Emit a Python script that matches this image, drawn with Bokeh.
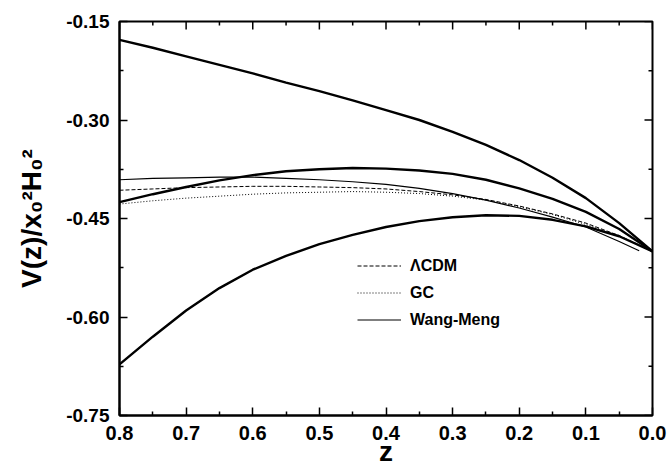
import math
from bokeh.plotting import figure
from bokeh.models import (Range1d, FixedTicker, PrintfTickFormatter,
                          Legend, LegendItem)
from bokeh.embed import file_html
from bokeh.resources import INLINE

# ---------------- data ----------------
z = [0.80, 0.75, 0.70, 0.65, 0.60, 0.55, 0.50, 0.45, 0.40,
     0.35, 0.30, 0.25, 0.20, 0.15, 0.10, 0.05, 0.00]

upper_thick = [-0.178, -0.190, -0.203, -0.216, -0.229, -0.243, -0.256, -0.270, -0.285,
               -0.300, -0.318, -0.338, -0.361, -0.388, -0.419, -0.457, -0.500]
middle_thick = [-0.425, -0.413, -0.402, -0.392, -0.384, -0.378, -0.375, -0.373, -0.374,
                -0.377, -0.382, -0.391, -0.404, -0.420, -0.440, -0.466, -0.500]
lower_thick = [-0.672, -0.630, -0.590, -0.556, -0.528, -0.507, -0.489, -0.475, -0.463,
               -0.454, -0.448, -0.445, -0.446, -0.452, -0.462, -0.477, -0.500]

lcdm = [-0.407, -0.405, -0.403, -0.402, -0.401, -0.401, -0.402, -0.403, -0.405,
        -0.409, -0.414, -0.421, -0.431, -0.443, -0.457, -0.476, -0.500]
gc = [-0.428, -0.423, -0.419, -0.416, -0.413, -0.411, -0.410, -0.409, -0.410,
      -0.412, -0.416, -0.422, -0.432, -0.444, -0.459, -0.477, -0.500]

z_wm = [0.80, 0.75, 0.70, 0.65, 0.60, 0.55, 0.50, 0.45, 0.40,
        0.35, 0.30, 0.25, 0.20, 0.15, 0.10, 0.05, 0.02]
wang_meng = [-0.391, -0.389, -0.388, -0.387, -0.387, -0.389, -0.391, -0.394, -0.398,
             -0.404, -0.412, -0.422, -0.434, -0.448, -0.463, -0.485, -0.499]

x_ticks = [0.8, 0.7, 0.6, 0.5, 0.4, 0.3, 0.2, 0.1, 0.0]
x_minor = [0.75, 0.65, 0.55, 0.45, 0.35, 0.25, 0.15, 0.05]
y_ticks = [-0.75, -0.60, -0.45, -0.30, -0.15]
y_minor = [-0.675, -0.525, -0.375, -0.225]

X_MIN, X_MAX = 0.8, 0.0
Y_MIN, Y_MAX = -0.75, -0.15

FONT = "Liberation Sans"

p = figure(width=668, height=472, output_backend="svg", toolbar_location=None,
           x_range=Range1d(X_MIN, X_MAX), y_range=Range1d(Y_MIN, Y_MAX),
           min_border_left=119, min_border_right=16, min_border_top=21,
           min_border_bottom=57)
p.xgrid.grid_line_color = None
p.ygrid.grid_line_color = None
p.outline_line_color = "black"
p.outline_line_width = 2
p.outline_line_alpha = 1
p.background_fill_color = "white"
p.border_fill_color = "white"


def style_axis(ax, size, standoff):
    ax.axis_line_width = 2
    ax.axis_line_color = "black"
    ax.major_tick_in = 8
    ax.major_tick_out = 0
    ax.minor_tick_in = 4
    ax.minor_tick_out = 0
    ax.major_tick_line_width = 1.5
    ax.minor_tick_line_width = 1.5
    ax.major_tick_line_color = "black"
    ax.minor_tick_line_color = "black"
    ax.major_label_text_font = FONT
    ax.major_label_text_font_style = "bold"
    ax.major_label_text_font_size = size
    ax.major_label_text_color = "black"
    ax.major_label_standoff = standoff
    ax.axis_label_text_font = FONT
    ax.axis_label_text_font_style = "bold"
    ax.axis_label_text_color = "black"


p.xaxis.ticker = FixedTicker(ticks=x_ticks, minor_ticks=x_minor)
p.xaxis.formatter = PrintfTickFormatter(format="%.1f")
style_axis(p.xaxis[0], "20px", 10)
p.xaxis.axis_label = "z"
p.xaxis.axis_label_text_font_size = "28px"
p.xaxis.axis_label_standoff = -7

p.yaxis.ticker = FixedTicker(ticks=y_ticks, minor_ticks=y_minor)
p.yaxis.formatter = PrintfTickFormatter(format="%.2f")
style_axis(p.yaxis[0], "19px", 10)
p.yaxis.axis_label = "V(z)/x\u2080\u00b2H\u2080\u00b2"
p.yaxis.axis_label_text_font_size = "28px"
p.yaxis.axis_label_standoff = 16

# inward ticks on the top and right edges of the frame box
p.ray(x=x_ticks, y=Y_MAX, length=8, length_units="screen", angle=-math.pi / 2,
      line_color="black", line_width=1.5)
p.ray(x=x_minor, y=Y_MAX, length=4, length_units="screen", angle=-math.pi / 2,
      line_color="black", line_width=1.5)
p.ray(x=X_MAX, y=y_ticks, length=8, length_units="screen", angle=math.pi,
      line_color="black", line_width=1.5)
p.ray(x=X_MAX, y=y_minor, length=4, length_units="screen", angle=math.pi,
      line_color="black", line_width=1.5)

# curves
p.line(z, upper_thick, line_color="black", line_width=2.4)
p.line(z, middle_thick, line_color="black", line_width=2.4)
p.line(z, lower_thick, line_color="black", line_width=2.4)
r_l = p.line(z, lcdm, line_color="black", line_width=1, line_dash="4 2")
r_g = p.line(z, gc, line_color="black", line_width=1, line_dash="1 2")
r_w = p.line(z_wm, wang_meng, line_color="black", line_width=1.2)

legend = Legend(items=[LegendItem(label="ΛCDM", renderers=[r_l]),
                       LegendItem(label="GC", renderers=[r_g]),
                       LegendItem(label="Wang-Meng", renderers=[r_w])],
                location=(238, 82), glyph_width=44, glyph_height=27,
                label_height=27, label_standoff=9, spacing=0, padding=0,
                margin=0, border_line_color=None, background_fill_alpha=0,
                label_text_font=FONT, label_text_font_style="bold",
                label_text_font_size="16px", label_text_color="black")
p.add_layout(legend)

open("out.html", "w").write(file_html(p, INLINE))
